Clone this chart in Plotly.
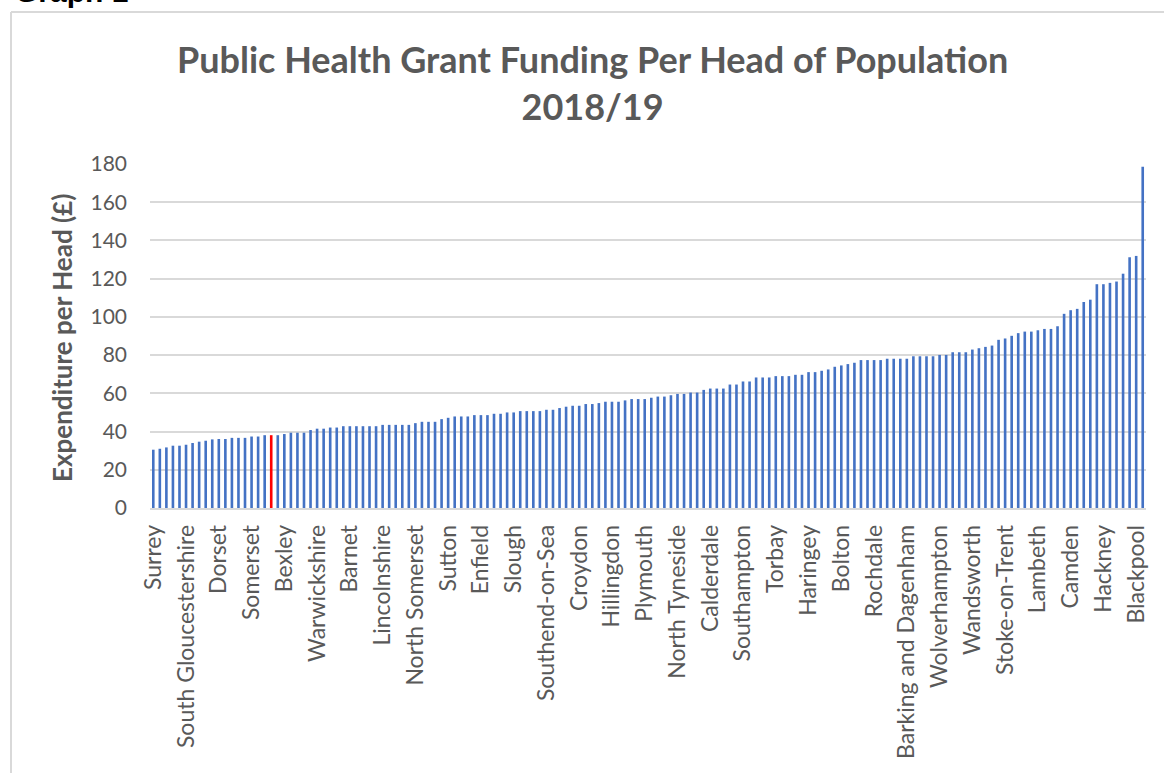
import plotly.graph_objects as go

# Values (per-head public health grant, £), sorted ascending, 152 authorities
values = [
    30.5, 31.0, 31.7, 32.6, 32.6, 33.1, 34.0, 34.7, 35.2, 35.9,
    36.1, 36.1, 36.7, 36.7, 36.7, 37.4, 37.4, 38.1, 38.1, 38.1,
    38.7, 39.4, 39.4, 39.4, 40.8, 41.5, 41.5, 42.1, 42.1, 42.8,
    42.8, 42.8, 42.8, 42.8, 42.8, 43.5, 43.5, 43.5, 43.5, 43.5,
    44.4, 45.1, 45.1, 45.1, 46.5, 47.2, 47.9, 47.9, 47.9, 48.6,
    48.6, 48.6, 49.3, 49.3, 50.0, 50.0, 50.7, 50.7, 50.7, 50.7,
    51.4, 51.4, 52.3, 53.0, 53.5, 53.5, 54.4, 54.4, 54.9, 55.6,
    55.6, 55.6, 56.3, 57.0, 57.0, 57.0, 57.7, 58.3, 58.3, 59.0,
    59.7, 59.7, 60.4, 60.4, 61.8, 62.5, 62.5, 62.5, 64.6, 64.6,
    66.2, 66.2, 68.3, 68.3, 68.3, 69.0, 69.0, 69.0, 69.7, 69.7,
    71.1, 71.1, 71.8, 72.5, 73.9, 74.6, 75.3, 76.0, 77.4, 77.4,
    77.4, 77.4, 78.1, 78.1, 78.1, 78.1, 79.4, 79.4, 79.4, 79.4,
    80.1, 80.1, 81.5, 81.5, 81.5, 82.9, 83.6, 84.3, 85.0, 88.0,
    88.7, 90.1, 91.5, 92.3, 92.3, 93.0, 93.7, 93.7, 95.1, 101.6,
    103.5, 104.2, 107.8, 109.0, 117.1, 117.1, 117.8, 118.5, 122.6, 131.2,
    131.9, 178.6,
]

# Tick labels shown on the axis (every 5th authority)
tick_labels = [
    "Surrey", "South Gloucestershire", "Dorset", "Somerset", "Bexley",
    "Warwickshire", "Barnet", "Lincolnshire", "North Somerset", "Sutton",
    "Enfield", "Slough", "Southend-on-Sea", "Croydon", "Hillingdon",
    "Plymouth", "North Tyneside", "Calderdale", "Southampton", "Torbay",
    "Haringey", "Bolton", "Rochdale", "Barking and Dagenham", "Wolverhampton",
    "Wandsworth", "Stoke-on-Trent", "Lambeth", "Camden", "Hackney",
    "Blackpool",
]
label_step = 5
highlight_index = 18

x_pos = list(range(len(values)))
tick_vals = [i * label_step for i in range(len(tick_labels))]
colors = ["#FF0000" if i == highlight_index else "#4472C4" for i in x_pos]

# Layout helpers (pixel -> paper)
L, R, T, B = 150, 18, 164, 265
W, H = 1164, 773
PW = W - L - R
PH = H - T - B


def px(xp):
    return (xp - L) / PW


def py(yp):
    return (H - B - yp) / PH


fig = go.Figure()
fig.add_trace(go.Bar(x=x_pos, y=values, marker=dict(color=colors, line=dict(width=0)),
                     showlegend=False))

GRAY = "#595959"
FONT = "Lato, Calibri, Carlito, sans-serif"

fig.update_layout(
    width=W, height=H,
    margin=dict(l=L, r=R, t=T, b=B, pad=0),
    paper_bgcolor="white", plot_bgcolor="white",
    bargap=0.6,
    font=dict(family=FONT, color=GRAY),
    xaxis=dict(
        tickmode="array", tickvals=tick_vals, ticktext=tick_labels,
        tickangle=-90, range=[-0.5, len(values) - 0.5],
        showgrid=False, zeroline=False,
        showline=True, linecolor="#D9D9D9", linewidth=1.5,
        ticks="", tickfont=dict(size=23, color=GRAY, family=FONT),
        ticklabelstandoff=6,
    ),
    yaxis=dict(
        range=[0, 180], tickmode="array", tickvals=list(range(0, 181, 20)),
        showgrid=True, gridcolor="#D9D9D9", gridwidth=1.5,
        zeroline=False, showline=False, ticks="",
        tickfont=dict(size=21, color=GRAY, family=FONT),
        ticklabelstandoff=22,
    ),
)

annotations = [
    dict(text="<b>Public Health Grant Funding Per Head of Population<br>2018/19</b>",
         x=px(592), y=py(82), xref="paper", yref="paper",
         xanchor="center", yanchor="middle", showarrow=False,
         font=dict(size=36, color=GRAY, family=FONT)),
    dict(text="<b>Expenditure per Head (£)</b>", textangle=-90,
         x=px(62), y=py(338), xref="paper", yref="paper",
         xanchor="center", yanchor="middle", showarrow=False,
         font=dict(size=26, color=GRAY, family=FONT)),
    dict(text="<b>Graph 1</b>", x=px(13), y=py(10), xref="paper", yref="paper",
         xanchor="left", yanchor="bottom", showarrow=False,
         font=dict(size=30, color="black", family="Liberation Sans, Arial, sans-serif")),
]
fig.update_layout(annotations=annotations)

fig.add_shape(type="line", xref="paper", yref="paper",
              x0=px(11), x1=px(W + 5), y0=py(12), y1=py(12),
              line=dict(color="#D9D9D9", width=2))
fig.add_shape(type="line", xref="paper", yref="paper",
              x0=px(11), x1=px(11), y0=py(12), y1=py(H + 5),
              line=dict(color="#D9D9D9", width=2))

fig.write_html("out.html")
